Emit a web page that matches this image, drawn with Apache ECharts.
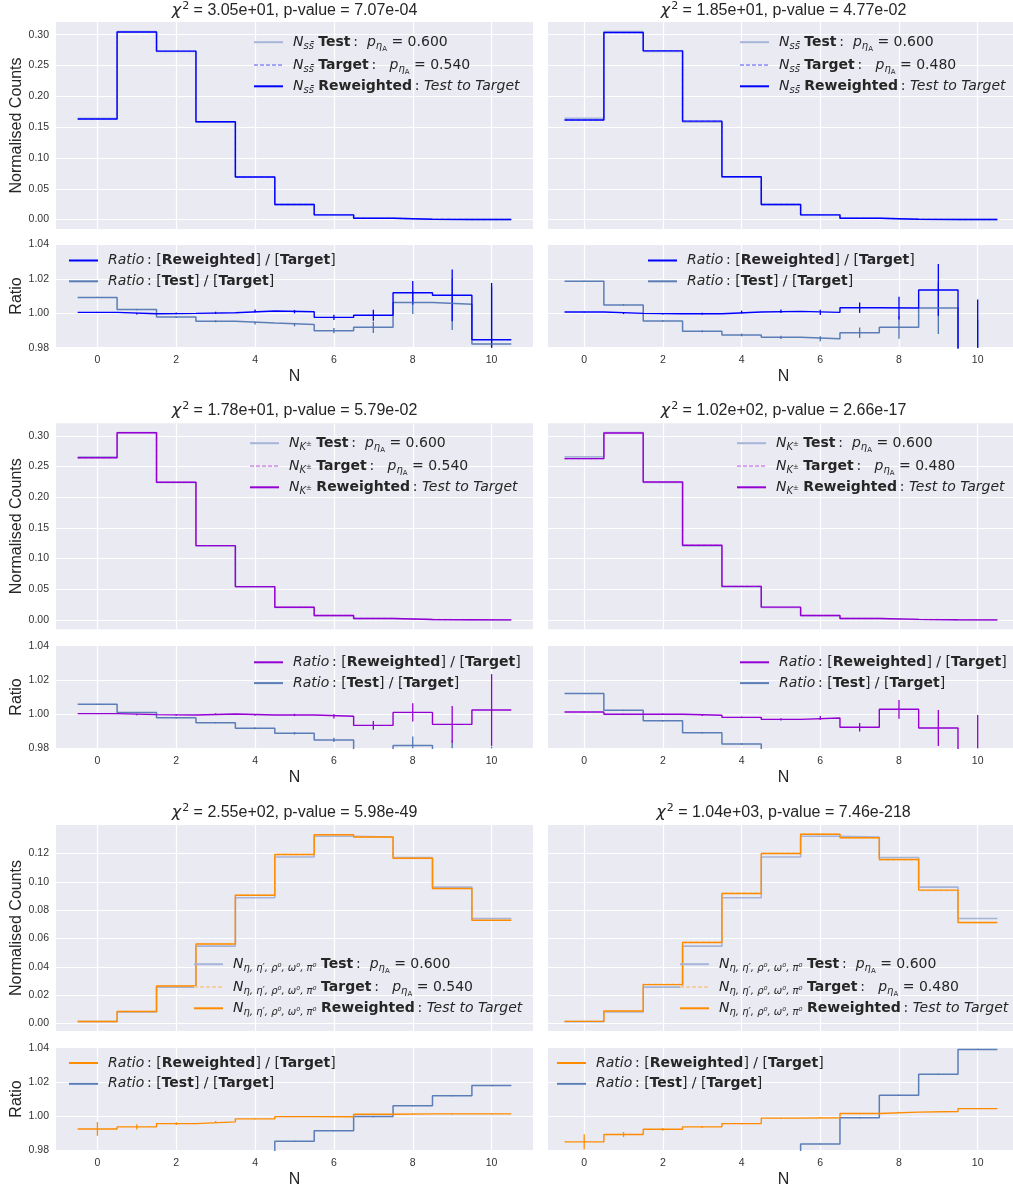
<!DOCTYPE html>
<html><head><meta charset="utf-8">
<script src="https://cdn.jsdelivr.net/npm/echarts@6/dist/echarts.min.js"></script>
<style>html,body{margin:0;padding:0;background:#fff}#c{width:1013px;height:1189px}</style>
</head><body><div id="c"></div>
<script>
// ---------- DATA ----------
const bins = [0, 1, 2, 3, 4, 5, 6, 7, 8, 9, 10];
const xTicks = [0, 2, 4, 6, 8, 10];
const countTicksA = [0.00, 0.05, 0.10, 0.15, 0.20, 0.25, 0.30];
const countTicksB = [0.00, 0.02, 0.04, 0.06, 0.08, 0.10, 0.12];
const ratioTicks = [0.98, 1.00, 1.02, 1.04];

const titlesChi = ['3.05e+01', '1.85e+01', '1.78e+01', '1.02e+02', '2.55e+02', '1.04e+03'];
const titlesP   = ['7.07e-04', '4.77e-02', '5.79e-02', '2.66e-17', '5.98e-49', '7.46e-218'];
const pTest = '0.600';
const pTargets = ['0.540', '0.480'];

// Row 1 : N_ss
const ssTest      = [0.1645, 0.3050, 0.2727, 0.1580, 0.0686, 0.0242, 0.0076, 0.0022, 0.0006, 0.0002, 0.0001];
const ssTargetL   = [0.1630, 0.3044, 0.2733, 0.1587, 0.0690, 0.0244, 0.0077, 0.0022, 0.0006, 0.0002, 0.0001];
const ssRwL       = [0.1631, 0.3043, 0.2733, 0.1588, 0.0691, 0.0244, 0.0077, 0.0022, 0.0006, 0.0002, 0.0001];
const ssTargetR   = [0.1615, 0.3035, 0.2739, 0.1597, 0.0695, 0.0245, 0.0077, 0.0022, 0.0006, 0.0002, 0.0001];
const ssRwR       = [0.1616, 0.3035, 0.2738, 0.1597, 0.0695, 0.0245, 0.0077, 0.0022, 0.0006, 0.0002, 0.0001];
const ssRatioTestL = [1.0092, 1.0021, 0.9978, 0.9953, 0.9943, 0.9934, 0.9899, 0.9918, 1.0063, 1.0052, 0.9821];
const ssRatioRwL   = [1.0005, 0.9997, 0.9999, 1.0003, 1.0013, 1.0009, 0.9976, 0.9988, 1.0119, 1.0104, 0.9846];
const ssErrL       = [0.0003, 0.0004, 0.0005, 0.0006, 0.0008, 0.0010, 0.0015, 0.0032, 0.0068, 0.0150, 0.0330];
const ssRatioTestR = [1.0185, 1.0048, 0.9955, 0.9895, 0.9874, 0.9860, 0.9852, 0.9887, 0.9918, 1.0030, 0.9620];
const ssRatioRwR   = [1.0007, 0.9999, 0.9997, 0.9997, 1.0007, 1.0011, 1.0005, 1.0032, 1.0030, 1.0135, 0.9740];
const ssErrR       = [0.0003, 0.0004, 0.0005, 0.0006, 0.0008, 0.0010, 0.0015, 0.0030, 0.0066, 0.0150, 0.0340];

// Row 2 : N_K±
const kTest      = [0.2659, 0.3055, 0.2240, 0.1205, 0.0538, 0.0203, 0.0069, 0.0022, 0.0008, 0.0003, 0.0001];
const kTargetL   = [0.2644, 0.3052, 0.2245, 0.1211, 0.0543, 0.0206, 0.0071, 0.0023, 0.0008, 0.0003, 0.0001];
const kRwL       = [0.2645, 0.3051, 0.2244, 0.1211, 0.0543, 0.0206, 0.0071, 0.0023, 0.0008, 0.0003, 0.0001];
const kTargetR   = [0.2627, 0.3048, 0.2249, 0.1218, 0.0548, 0.0209, 0.0072, 0.0024, 0.0009, 0.0003, 0.0001];
const kRwR       = [0.2630, 0.3048, 0.2249, 0.1217, 0.0547, 0.0208, 0.0072, 0.0024, 0.0009, 0.0003, 0.0001];
const kRatioTestL = [1.0057, 1.0010, 0.9979, 0.9950, 0.9917, 0.9888, 0.9849, 0.9775, 0.9816, 0.9740, 0.9600];
const kRatioRwL   = [1.0003, 0.9997, 0.9995, 1.0001, 0.9995, 0.9995, 0.9987, 0.9934, 1.0010, 0.9940, 1.0024];
const kErrL       = [0.0003, 0.0003, 0.0004, 0.0004, 0.0005, 0.0007, 0.0012, 0.0026, 0.0053, 0.0107, 0.0210];
const kRatioTestR = [1.0121, 1.0022, 0.9961, 0.9891, 0.9825, 0.9700, 0.9600, 0.9500, 0.9400, 0.9300, 0.9200];
const kRatioRwR   = [1.0012, 0.9999, 0.9999, 0.9993, 0.9981, 0.9969, 0.9977, 0.9923, 1.0028, 0.9919, 0.9785];
const kErrR       = [0.0003, 0.0003, 0.0004, 0.0004, 0.0005, 0.0007, 0.0012, 0.0025, 0.0055, 0.0105, 0.0210];

// Row 3 : N_eta...
const eTest      = [0.0012, 0.0080, 0.0256, 0.0546, 0.0888, 0.1176, 0.1322, 0.1316, 0.1172, 0.0963, 0.0741];
const eTargetL   = [0.0013, 0.0085, 0.0265, 0.0563, 0.0908, 0.1194, 0.1333, 0.1316, 0.1165, 0.0952, 0.0728];
const eRwL       = [0.0013, 0.0084, 0.0264, 0.0561, 0.0906, 0.1193, 0.1333, 0.1317, 0.1167, 0.0953, 0.0729];
const eTargetR   = [0.0014, 0.0088, 0.0276, 0.0576, 0.0922, 0.1203, 0.1338, 0.1310, 0.1155, 0.0939, 0.0710];
const eRwR       = [0.0014, 0.0087, 0.0274, 0.0572, 0.0918, 0.1201, 0.1337, 0.1312, 0.1158, 0.0942, 0.0713];
const eRatioTestL = [0.9000, 0.9400, 0.9550, 0.9700, 0.9780, 0.9853, 0.9915, 0.9997, 1.0060, 1.0119, 1.0179];
const eRatioRwL   = [0.9925, 0.9937, 0.9956, 0.9966, 0.9984, 0.9997, 0.9996, 1.0011, 1.0013, 1.0013, 1.0013];
const eErrL       = [0.0040, 0.0015, 0.0008, 0.0005, 0.0004, 0.0003, 0.0003, 0.0003, 0.0003, 0.0003, 0.0004];
const eRatioTestR = [0.8500, 0.9000, 0.9300, 0.9500, 0.9600, 0.9720, 0.9837, 0.9990, 1.0122, 1.0245, 1.0390];
const eRatioRwR   = [0.9849, 0.9892, 0.9923, 0.9937, 0.9956, 0.9988, 0.9990, 1.0015, 1.0023, 1.0027, 1.0044];
const eErrR       = [0.0045, 0.0015, 0.0008, 0.0005, 0.0004, 0.0003, 0.0003, 0.0003, 0.0003, 0.0003, 0.0004];

// ---------- STYLE / LAYOUT ----------
const rowData = [
  {test: ssTest, target: [ssTargetL, ssTargetR], rw: [ssRwL, ssRwR], rTest: [ssRatioTestL, ssRatioTestR], rRw: [ssRatioRwL, ssRatioRwR], err: [ssErrL, ssErrR]},
  {test: kTest, target: [kTargetL, kTargetR], rw: [kRwL, kRwR], rTest: [kRatioTestL, kRatioTestR], rRw: [kRatioRwL, kRatioRwR], err: [kErrL, kErrR]},
  {test: eTest, target: [eTargetL, eTargetR], rw: [eRwL, eRwR], rTest: [eRatioTestL, eRatioTestR], rRw: [eRatioRwL, eRatioRwR], err: [eErrL, eErrR]}
];
const rwColors = ['#0000ff', '#9400d3', '#ff8c00'];
const targetColors = ['#a3a3f5', '#dba3ee', '#f3cfa6'];
const testMainColor = '#a6b5d7';
const testRatioColor = '#4c72b0';
const prefixes = ['{it|N}{sub|ss\u0304}', '{it|N}{sub|K}{pm|\u00b1}', '{it|N}{sub|\u03b7, \u03b7\u2032, \u03c1\u2070, \u03c9\u2070, \u03c0\u2070}'];

const cols = [
  {left: 56, width: 477, xmin: -1.05, xmax: 11.05},
  {left: 548, width: 471, xmin: -0.92, xmax: 11.05}
];
const rows = [
  {mainTop: 22, mainH: 207, ratioTop: 244.3, ratioH: 103.4, ymin: -0.0153, ymax: 0.3206, ticks: countTicksA, titleY: 10.5},
  {mainTop: 423.3, mainH: 206, ratioTop: 645.7, ratioH: 102.6, ymin: -0.0153, ymax: 0.3206, ticks: countTicksA, titleY: 411},
  {mainTop: 825, mainH: 206, ratioTop: 1047.7, ratioH: 102.6, ymin: -0.0054, ymax: 0.1402, ticks: countTicksB, titleY: 813}
];
// legend positions [iconLeft, firstRowCenterY] for main and ratio legends
const mainLegendPos = [[[253, 40.7], [739, 40.7]], [[249, 441.7], [736, 441.7]], [[193, 962.7], [679, 962.7]]];
const ratioLegendPos = [[[68, 262.5], [647, 262.5]], [[253, 664.3], [739, 664.3]], [[68, 1065], [556, 1065]]];
const legendRowGap = 22.8;

const FONT = 'Liberation Sans, Arial, sans-serif';
const MFONT = 'DejaVu Sans';
const txt = '#262626';
const legendRich = {
  it:  {fontFamily: MFONT, fontStyle: 'italic', fontSize: 14, lineHeight: 18, color: txt},
  b:   {fontFamily: MFONT, fontWeight: 'bold', fontSize: 14, lineHeight: 18, color: txt},
  r:   {fontFamily: MFONT, fontSize: 14, lineHeight: 18, color: txt},
  sub: {fontFamily: MFONT, fontStyle: 'italic', fontSize: 10, lineHeight: 10, padding: [8, 0, 0, 0], color: txt},
  ss:  {fontFamily: MFONT, fontSize: 7, lineHeight: 7, padding: [14, 0, 0, 0], color: txt},
  pm:  {fontFamily: MFONT, fontSize: 7, lineHeight: 7, padding: [2, 0, 0, 0], color: txt}
};

function stepData(vals) {
  const d = bins.map((b, i) => [b - 0.5, vals[i]]);
  d.push([bins[bins.length - 1] + 0.5, vals[vals.length - 1]]);
  return d;
}
function errData(vals, errs) { return bins.map((b, i) => [b, vals[i], errs[i]]); }
function errRender(color) {
  return function (params, api) {
    const x = api.value(0), y = api.value(1), e = api.value(2);
    const cs = params.coordSys;
    const p1 = api.coord([x, y + e]);
    const p2 = api.coord([x, y - e]);
    const top = Math.max(p1[1], cs.y), bot = Math.min(p2[1], cs.y + cs.height);
    if (top >= bot) return null;
    return {type: 'line', shape: {x1: p1[0], y1: top, x2: p1[0], y2: bot}, style: {stroke: color, lineWidth: 1.3}};
  };
}

const grids = [], xAxes = [], yAxes = [], series = [], legends = [], graphics = [];
const labelMap = {};

function addLegend(name, left, cy) {
  legends.push({
    show: true, data: [name], left: left, top: cy - 9, orient: 'vertical', padding: 0,
    itemWidth: 29, itemHeight: 14, itemGap: 0, selectedMode: false,
    itemStyle: {opacity: 0, borderWidth: 0},
    formatter: n => labelMap[n],
    textStyle: {padding: [0, 0, 0, 5], rich: legendRich, fontFamily: MFONT, fontSize: 14, color: txt}
  });
}

rows.forEach((row, r) => {
  cols.forEach((col, c) => {
    const k = r * 2 + c;
    const gMain = grids.length;
    grids.push({left: col.left, top: row.mainTop, width: col.width, height: row.mainH, containLabel: false, outerBoundsMode: 'none', backgroundColor: '#eaeaf2', show: true, borderWidth: 0});
    const gRatio = grids.length;
    grids.push({left: col.left, top: row.ratioTop, width: col.width, height: row.ratioH, containLabel: false, outerBoundsMode: 'none', backgroundColor: '#eaeaf2', show: true, borderWidth: 0});

    const xBase = {type: 'value', min: col.xmin, max: col.xmax,
      axisLine: {show: false}, axisTick: {show: false, customValues: xTicks},
      splitLine: {show: true, lineStyle: {color: '#ffffff', width: 1.2}}};
    xAxes.push(Object.assign({}, xBase, {gridIndex: gMain, axisLabel: {show: false, customValues: xTicks}}));
    xAxes.push(Object.assign({}, xBase, {gridIndex: gRatio,
      axisLabel: {show: true, customValues: xTicks, fontFamily: FONT, fontSize: 10.5, color: '#333', margin: 7},
      name: 'N', nameLocation: 'middle', nameGap: 21, nameTextStyle: {fontFamily: FONT, fontSize: 16, color: txt}}));

    const mainY = {type: 'value', gridIndex: gMain, min: row.ymin, max: row.ymax,
      axisLine: {show: false}, axisTick: {show: false, customValues: row.ticks},
      axisLabel: {show: c === 0, customValues: row.ticks, formatter: v => v.toFixed(2), fontFamily: FONT, fontSize: 10.5, color: '#333', margin: 7},
      splitLine: {show: true, lineStyle: {color: '#ffffff', width: 1.2}}};
    if (c === 0) Object.assign(mainY, {name: 'Normalised Counts', nameLocation: 'middle', nameGap: 31, nameTextStyle: {fontFamily: FONT, fontSize: 16, color: txt}});
    yAxes.push(mainY);
    const ratioY = {type: 'value', gridIndex: gRatio, min: 0.98, max: 1.04,
      axisLine: {show: false}, axisTick: {show: false, customValues: ratioTicks},
      axisLabel: {show: c === 0, customValues: ratioTicks, formatter: v => v.toFixed(2), fontFamily: FONT, fontSize: 10.5, color: '#333', margin: 7},
      splitLine: {show: true, lineStyle: {color: '#ffffff', width: 1.2}}};
    if (c === 0) Object.assign(ratioY, {name: 'Ratio', nameLocation: 'middle', nameGap: 31, nameTextStyle: {fontFamily: FONT, fontSize: 16, color: txt}});
    yAxes.push(ratioY);

    const d = rowData[r];
    const xm = xAxes.length - 2, xr = xAxes.length - 1, ym = yAxes.length - 2, yr = yAxes.length - 1;
    const nT = 'p' + k + '_test', nG = 'p' + k + '_target', nR = 'p' + k + '_rw';
    const base = {type: 'line', step: 'end', symbol: 'none', animation: false, clip: true, silent: true};
    series.push(Object.assign({}, base, {name: nT, xAxisIndex: xm, yAxisIndex: ym, data: stepData(d.test), lineStyle: {color: testMainColor, width: 1.6}, itemStyle: {color: testMainColor}}));
    series.push(Object.assign({}, base, {name: nG, xAxisIndex: xm, yAxisIndex: ym, data: stepData(d.target[c]), lineStyle: {color: targetColors[r], width: 1.4, type: [4, 2]}, itemStyle: {color: targetColors[r]}}));
    series.push(Object.assign({}, base, {name: nR, xAxisIndex: xm, yAxisIndex: ym, data: stepData(d.rw[c]), lineStyle: {color: rwColors[r], width: 1.4}, itemStyle: {color: rwColors[r]}}));

    const nRT = 'p' + k + '_rtest', nRR = 'p' + k + '_rrw';
    series.push(Object.assign({}, base, {name: nRT, xAxisIndex: xr, yAxisIndex: yr, data: stepData(d.rTest[c]), lineStyle: {color: testRatioColor, width: 1.5, opacity: 0.9}, itemStyle: {color: testRatioColor}}));
    series.push(Object.assign({}, base, {name: nRR, xAxisIndex: xr, yAxisIndex: yr, data: stepData(d.rRw[c]), lineStyle: {color: rwColors[r], width: 1.4}, itemStyle: {color: rwColors[r]}}));
    series.push({type: 'custom', name: 'p' + k + '_etest', xAxisIndex: xr, yAxisIndex: yr, silent: true, animation: false, encode: {x: 0, y: 1},
      renderItem: errRender(testRatioColor), data: errData(d.rTest[c], d.err[c])});
    series.push({type: 'custom', name: 'p' + k + '_erw', xAxisIndex: xr, yAxisIndex: yr, silent: true, animation: false, encode: {x: 0, y: 1},
      renderItem: errRender(rwColors[r]), data: errData(d.rRw[c], d.err[c])});

    const pre = prefixes[r];
    labelMap[nT] = pre + ' {b|Test}{r|\u2009:  }{it|p}{sub|\u03b7}{ss|A}{r| = ' + pTest + '}';
    labelMap[nG] = pre + ' {b|Target}{r|\u2009:   }{it|p}{sub|\u03b7}{ss|A}{r| = ' + pTargets[c] + '}';
    labelMap[nR] = pre + ' {b|Reweighted}{r|\u2009: }{it|Test to Target}';
    labelMap[nRR] = '{it|Ratio}{r|\u2009: [}{b|Reweighted}{r|] / [}{b|Target}{r|]}';
    labelMap[nRT] = '{it|Ratio}{r|\u2009: [}{b|Test}{r|] / [}{b|Target}{r|]}';

    const mp = mainLegendPos[r][c], rp = ratioLegendPos[r][c];
    addLegend(nT, mp[0], mp[1]);
    addLegend(nG, mp[0], mp[1] + legendRowGap);
    addLegend(nR, mp[0], mp[1] + 2 * legendRowGap);
    addLegend(nRR, rp[0], rp[1]);
    addLegend(nRT, rp[0], rp[1] + 20.8);

    // title
    const cx = col.left + col.width / 2;
    graphics.push({type: 'text', x: cx, y: row.titleY, silent: true,
      style: {text: '{it|\u03c7}{sup|2}{r| = ' + titlesChi[k] + ', p-value = ' + titlesP[k] + '}', align: 'center', verticalAlign: 'middle',
        rich: {
          it: {fontFamily: MFONT, fontStyle: 'italic', fontSize: 16, lineHeight: 20, fill: txt, color: txt},
          sup: {fontFamily: MFONT, fontSize: 11, lineHeight: 11, padding: [0, 0, 9, 1], fill: txt, color: txt},
          r: {fontFamily: FONT, fontSize: 16, lineHeight: 20, fill: txt, color: txt}
        }}});
  });
});

const chart = echarts.init(document.getElementById('c'), null, {renderer: 'canvas', width: 1013, height: 1189});
chart.setOption({
  backgroundColor: '#ffffff',
  animation: false,
  grid: grids, xAxis: xAxes, yAxis: yAxes, series: series, legend: legends,
  graphic: graphics
});
</script></body></html>
